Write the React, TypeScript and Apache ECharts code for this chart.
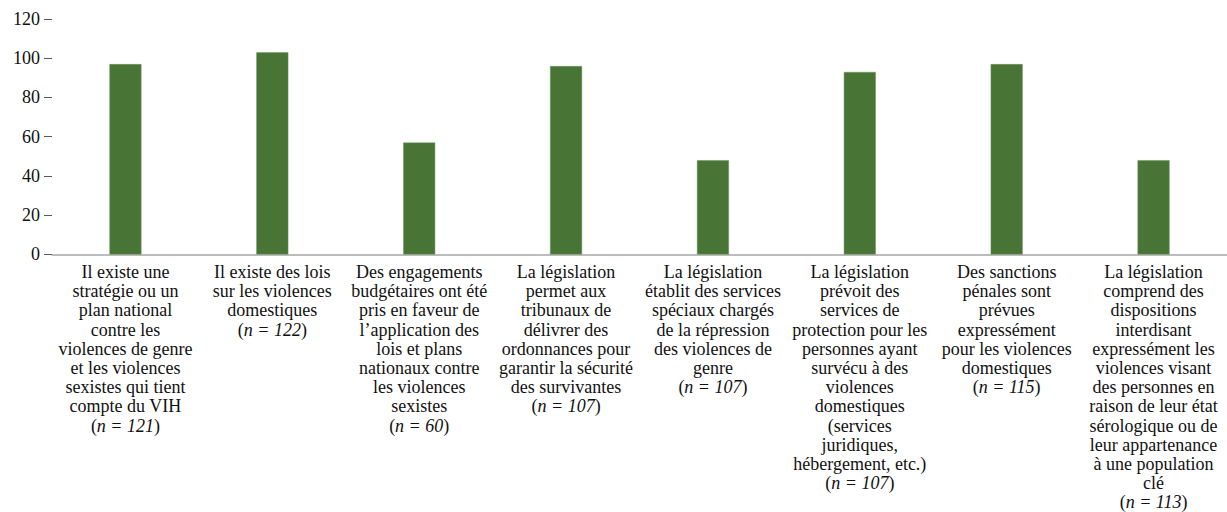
import React, { useEffect, useRef } from "react";
import * as echarts from "echarts";

const categories: string[] = [
  "Il existe une\nstratégie ou un\nplan national\ncontre les\nviolences de genre\net les violences\nsexistes qui tient\ncompte du VIH",
  "Il existe des lois\nsur les violences\ndomestiques",
  "Des engagements\nbudgétaires ont été\npris en faveur de\nl’application des\nlois et plans\nnationaux contre\nles violences\nsexistes",
  "La législation\npermet aux\ntribunaux de\ndélivrer des\nordonnances pour\ngarantir la sécurité\ndes survivantes",
  "La législation\nétablit des services\nspéciaux chargés\nde la répression\ndes violences de\ngenre",
  "La législation\nprévoit des\nservices de\nprotection pour les\npersonnes ayant\nsurvécu à des\nviolences\ndomestiques\n(services\njuridiques,\nhébergement, etc.)",
  "Des sanctions\npénales sont\nprévues\nexpressément\npour les violences\ndomestiques",
  "La législation\ncomprend des\ndispositions\ninterdisant\nexpressément les\nviolences visant\ndes personnes en\nraison de leur état\nsérologique ou de\nleur appartenance\nà une population\nclé",
];

const nValues: number[] = [121, 122, 60, 107, 107, 107, 115, 113];

const values: number[] = [97, 103, 57, 96, 48, 93, 97, 48];

const yTicks = { min: 0, max: 120, interval: 20 };

const FONT = "Liberation Serif, Times New Roman, serif";

export default function App() {
  const ref = useRef<HTMLDivElement>(null);

  useEffect(() => {
    if (!ref.current) return;
    const chart = echarts.init(ref.current, undefined, { renderer: "svg" });
    chart.setOption({
      animation: false,
      textStyle: { fontFamily: FONT },
      grid: { left: 52, top: 19, width: 1182, bottom: 257, containLabel: false },
      xAxis: {
        type: "category",
        data: categories,
        axisLine: { show: true, lineStyle: { color: "#a6a6a6", width: 1.5 } },
        axisTick: { show: false },
        axisLabel: {
          interval: 0,
          margin: 8,
          color: "#111",
          fontFamily: FONT,
          fontSize: 18,
          lineHeight: 19.2,
          align: "center",
          formatter: (val: string, idx: number) =>
            `${val}\n({i|n = ${nValues[idx]}})`,
          rich: {
            i: {
              fontStyle: "italic",
              fontFamily: FONT,
              fontSize: 18,
              lineHeight: 19.2,
              color: "#111",
            },
          },
        },
      },
      yAxis: {
        type: "value",
        min: yTicks.min,
        max: yTicks.max,
        interval: yTicks.interval,
        axisLine: { show: false },
        axisTick: { show: true, inside: false, length: 8, lineStyle: { color: "#595959", width: 1 } },
        splitLine: { show: false },
        axisLabel: {
          margin: 12,
          color: "#111",
          fontFamily: FONT,
          fontSize: 18,
        },
      },
      series: [
        {
          type: "bar",
          data: values,
          barWidth: 32,
          itemStyle: { color: "#487535", borderColor: "#6f9460", borderWidth: 0.5 },
        },
      ],
    });
    return () => chart.dispose();
  }, []);

  return (
    <div
      ref={ref}
      style={{ position: "absolute", left: 0, top: 0, width: 1227, height: 512, background: "#fff" }}
    />
  );
}
